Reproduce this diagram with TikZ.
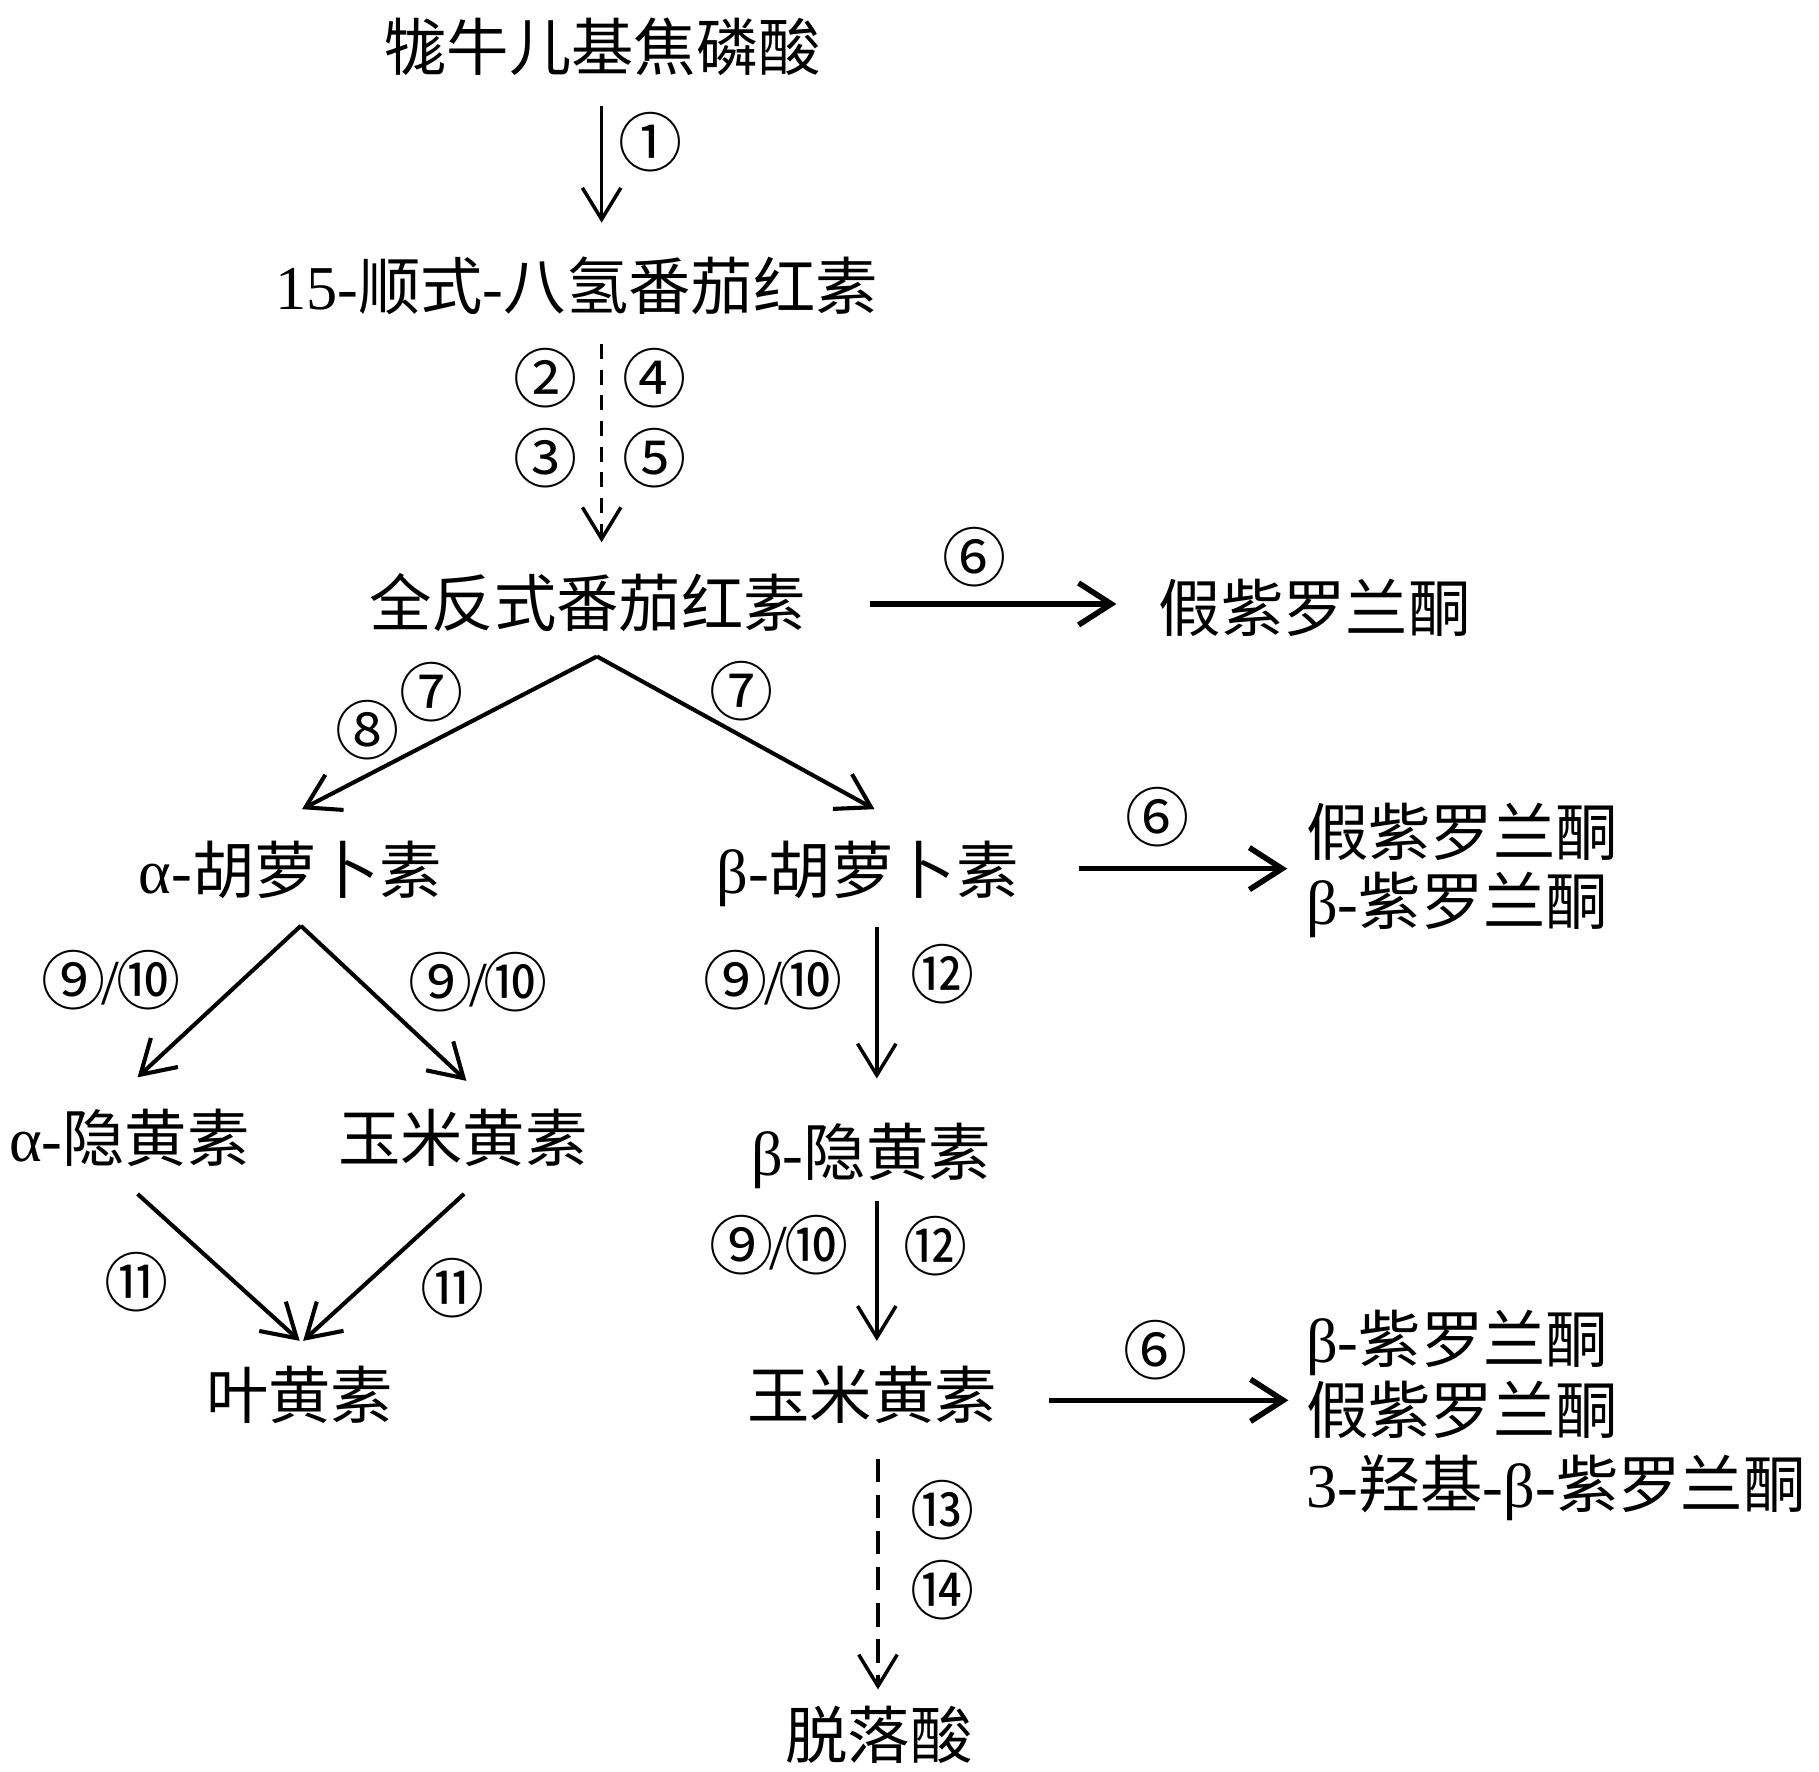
\documentclass[tikz,border=0pt]{standalone}
\usepackage{fontspec}
\setmainfont{Liberation Serif}
\newfontfamily\cjk{Noto Sans CJK SC}
\usetikzlibrary{arrows.meta,calc}
\newcommand\zh[1]{{\cjk #1}}
\begin{document}
\begin{tikzpicture}[x=1pt,y=-1pt,
  txt/.style={inner sep=0pt, font=\fontsize{53.5}{60}\selectfont, text height=47pt, text depth=6pt},
  num/.style={inner sep=0pt, font=\fontsize{55}{60}\selectfont\cjk, text height=48pt, text depth=7pt},
  varr/.style={line width=3pt, -{Straight Barb[length=27pt,width=33pt]}},
  darr/.style={varr, dash pattern=on 13pt off 9pt},
  darrb/.style={varr, dash pattern=on 20pt off 11pt},
  diag/.style={line width=3.5pt, -{Straight Barb[length=28pt,width=34pt]}},
  harr/.style={line width=4.8pt, -{Straight Barb[length=28pt,width=36pt]}}]
\useasboundingbox[fill=white] (0,0) rectangle (1560.1,1519.7);

% compounds
\node[txt] (T) at (517,40) {\zh{牻牛儿基焦磷酸}};
\node[txt] (N) at (494.5,245) {15-\zh{顺式}-\zh{八氢番茄红素}};
\node[txt] (A) at (504,517) {\zh{全反式番茄红素}};
\node[txt] (P1) at (1127.5,521) {\zh{假紫罗兰酮}};
\node[txt] (AC) at (249,746) {α-\zh{胡萝卜素}};
\node[txt] (BC) at (744,746) {β-\zh{胡萝卜素}};
\node[txt,anchor=west] (R1a) at (1120,713) {\zh{假紫罗兰酮}};
\node[txt,anchor=west] (R1b) at (1120,772) {β-\zh{紫罗兰酮}};
\node[txt] (ACR) at (111,976) {α-\zh{隐黄素}};
\node[txt] (Z1) at (397,976) {\zh{玉米黄素}};
\node[txt] (BCR) at (747,988) {β-\zh{隐黄素}};
\node[txt] (LUT) at (257,1196) {\zh{叶黄素}};
\node[txt] (Z2) at (748,1196) {\zh{玉米黄素}};
\node[txt] (ABA) at (754,1488) {\zh{脱落酸}};
\node[txt,anchor=west] (R3a) at (1120,1148) {β-\zh{紫罗兰酮}};
\node[txt,anchor=west] (R3b) at (1120,1209) {\zh{假紫罗兰酮}};
\node[txt,anchor=west] (R3c) at (1120,1272) {3-\zh{羟基}-β-\zh{紫罗兰酮}};

% helper coordinates
\coordinate (AT) at ($(A)+(8,46)$);
\coordinate (ACt) at ($(AC)+(9,48)$);
\coordinate (R1m) at ($(R1a.west)!0.5!(R1b.west)$);

% connectors
\draw[varr] ($(T)+(-1,51)$) -- ($(N)+(21.5,-54)$);
\draw[darr] ($(N)+(21.5,50)$) -- ($(A)+(12,-52)$);
\draw[harr] ($(A)+(242,1)$) -- ($(P1)+(-170,-3)$);
\draw[diag] (AT) -- ($(AC)+(10,-52)$);
\draw[diag] (AT) -- ($(BC)+(6,-52)$);
\draw[harr] ($(BC)+(181,-1)$) -- ($(R1m)+(-16,2.5)$);
\draw[diag] (ACt) -- ($(ACR)+(7,-52)$);
\draw[diag] (ACt) -- ($(Z1)+(3,-49)$);
\draw[varr] ($(BC)+(8,49)$) -- ($(BCR)+(5,-63)$);
\draw[diag] ($(ACR)+(7,48)$) -- ($(LUT)+(0,-46)$);
\draw[diag] ($(Z1)+(1,48)$) -- ($(LUT)+(3,-46)$);
\draw[varr] ($(BCR)+(5,42)$) -- ($(Z2)+(4,-46)$);
\draw[harr] ($(Z2)+(152,5)$) -- ($(R3b.west)+(-15,-8)$);
\draw[darrb] ($(Z2)+(5,55)$) -- ($(ABA)+(-1,-39)$);

% step labels
\node[num] (c1) at (558,122) {①};
\node[num] (c2) at (468,325) {②};
\node[num] (c4) at (561,325) {④};
\node[num] (c3) at (468,393) {③};
\node[num] (c5) at (561,393) {⑤};
\node[num] (c6a) at (836,478) {⑥};
\node[num] (c8) at (315,627) {⑧};
\node[num] (c7a) at (370,594) {⑦};
\node[num] (c7b) at (636,593) {⑦};
\node[num] (c6b) at (993,701) {⑥};
\node[num] (c910a) at (95,841) {⑨\kern-3pt{\rmfamily /}\kern-3pt⑩};
\node[num] (c910b) at (410,843) {⑨\kern-3pt{\rmfamily /}\kern-3pt⑩};
\node[num] (c910c) at (663,841) {⑨\kern-3pt{\rmfamily /}\kern-3pt⑩};
\node[num] (c12a) at (808,836) {⑫};
\node[num] (c11a) at (117,1100) {⑪};
\node[num] (c11b) at (388,1105) {⑪};
\node[num] (c910d) at (668,1068) {⑨\kern-3pt{\rmfamily /}\kern-3pt⑩};
\node[num] (c12b) at (802,1069) {⑫};
\node[num] (c6c) at (991,1158) {⑥};
\node[num] (c13) at (808,1296) {⑬};
\node[num] (c14) at (808,1364) {⑭};
\end{tikzpicture}
\end{document}
